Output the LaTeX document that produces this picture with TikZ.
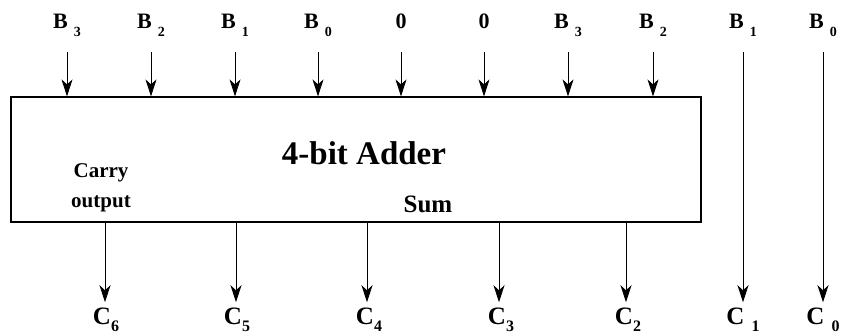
\documentclass[tikz,border=0pt]{standalone}
\usepackage{fontspec}
\setmainfont{Liberation Serif}
\usetikzlibrary{arrows.meta, positioning}

\newcommand{\lowidx}[3][14]{\raisebox{-#2}{\fontsize{#1}{#1}\selectfont #3}}

\begin{document}
\begin{tikzpicture}[x=1pt, y=-1pt, >={Stealth[length=17pt,width=11pt,inset=5pt]},
	inlbl/.style={font=\fontsize{22}{22}\selectfont\bfseries, inner sep=0pt, anchor=base},
	outlbl/.style={font=\fontsize{25}{25}\selectfont\bfseries, inner sep=0pt, anchor=base},
	wire/.style={->, line width=0.8pt}]
	\useasboundingbox (0,0) rectangle (842,335);
	\node[draw, line width=1.2pt, minimum width=690pt, minimum height=125pt, inner sep=0pt] (adder) at (356,159.5) {};
	\node[font=\fontsize{33}{33}\selectfont\bfseries] (title) at (364,153) {4-bit Adder};
	\node[font=\fontsize{21}{30}\selectfont\bfseries, align=center] (carry) at (101,188) {Carry\\output};
	\node[font=\fontsize{25}{25}\selectfont\bfseries] (sum) at (428,204) {Sum};
	% inputs
	\node[inlbl] (b3l) at (67,28) {B\hspace{6pt}\lowidx{8pt}{3}};
	\node[inlbl] (b2l) at (151,28) {B\hspace{6pt}\lowidx{8pt}{2}};
	\node[inlbl] (b1l) at (235,28) {B\hspace{6pt}\lowidx{8pt}{1}};
	\node[inlbl] (b0l) at (318,28) {B\hspace{6pt}\lowidx{8pt}{0}};
	\node[inlbl] (z1) at (401,28) {0\vphantom{\lowidx{8pt}{0}}};
	\node[inlbl] (z2) at (484,28) {0\vphantom{\lowidx{8pt}{0}}};
	\node[inlbl] (b3r) at (568,28) {B\hspace{6pt}\lowidx{8pt}{3}};
	\node[inlbl] (b2r) at (653,28) {B\hspace{6pt}\lowidx{8pt}{2}};
	\node[inlbl] (b1r) at (743,28) {B\hspace{6pt}\lowidx{8pt}{1}};
	\node[inlbl] (b0r) at (823,28) {B\hspace{6pt}\lowidx{8pt}{0}};
	% outputs
	\node[outlbl] (c6) at (106,324) {C\lowidx[16]{7pt}{6}};
	\node[outlbl] (c5) at (237,324) {C\lowidx[16]{7pt}{5}};
	\node[outlbl] (c4) at (369,324) {C\lowidx[16]{7pt}{4}};
	\node[outlbl] (c3) at (501,324) {C\lowidx[16]{7pt}{3}};
	\node[outlbl] (c2) at (628,324) {C\lowidx[16]{7pt}{2}};
	\node[outlbl] (c1) at (743,324) {C\hspace{7pt}\lowidx[16]{7pt}{1}};
	\node[outlbl] (c0) at (823,324) {C\hspace{7pt}\lowidx[16]{7pt}{0}};
	\foreach \i in {b3l,b2l,b1l,b0l,z1,z2,b3r,b2r} {\draw[wire, shorten <=16pt] (\i) -- (\i |- adder.north);}
	\foreach \i/\x in {c6/105,c5/236,c4/367,c3/499,c2/626} {\draw[wire, shorten >=5pt] (adder.south -| \x,0) -- (\x,0 |- \i.north);}
	\draw[wire, shorten <=16pt, shorten >=5pt] (b1r) -- (c1);
	\draw[wire, shorten <=16pt, shorten >=5pt] (b0r) -- (c0);
\end{tikzpicture}
\end{document}
